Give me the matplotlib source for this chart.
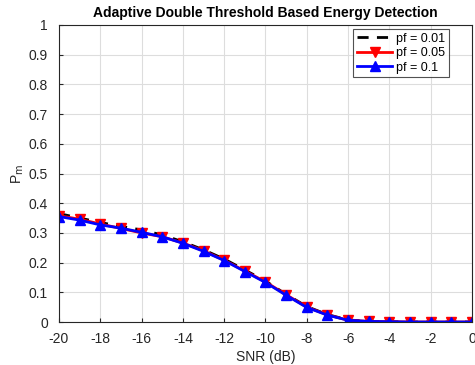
import matplotlib
matplotlib.use("Agg")
import matplotlib.pyplot as plt
import numpy as np

snr = list(range(-20, 1))
pf001 = [0.365, 0.350, 0.335, 0.322, 0.310, 0.293, 0.270, 0.243, 0.212, 0.175, 0.138, 0.093, 0.052, 0.025, 0.007, 0.002, 0.001, 0.0, 0.0, 0.0, 0.0]
pf005 = [0.358, 0.346, 0.330, 0.315, 0.300, 0.287, 0.266, 0.240, 0.208, 0.172, 0.135, 0.092, 0.050, 0.024, 0.006, 0.002, 0.001, 0.0, 0.0, 0.0, 0.0]
pf01 = [0.355, 0.343, 0.327, 0.316, 0.302, 0.287, 0.265, 0.238, 0.207, 0.170, 0.133, 0.090, 0.049, 0.023, 0.006, 0.002, 0.001, 0.0, 0.0, 0.0, 0.0]
labels = ["pf = 0.01", "pf = 0.05", "pf = 0.1"]

plt.rcParams['font.family'] = ['Liberation Sans', 'DejaVu Sans']
plt.rcParams['axes.unicode_minus'] = False
fig = plt.figure(figsize=(4.75, 3.65), dpi=100)
ax = fig.add_axes([59/475, 1 - 322/365, (472 - 59)/475, (322 - 25)/365])

ax.plot(snr, pf001, color='black', linestyle=(0, (4, 3)), linewidth=2, label=labels[0])
ax.plot(snr, pf005, color='red', linewidth=2, marker='v', markersize=7, label=labels[1])
ax.plot(snr, pf01, color='blue', linewidth=2, marker='^', markersize=7, label=labels[2])

ax.set_xlim(-20, 0)
ax.set_ylim(0, 1)
ax.set_xticks(range(-20, 1, 2))
ax.set_yticks(np.arange(0, 1.01, 0.1))
ax.set_yticklabels(["0", "0.1", "0.2", "0.3", "0.4", "0.5", "0.6", "0.7", "0.8", "0.9", "1"])
ax.grid(True, color='#dddddd', linewidth=0.8)
ax.tick_params(labelsize=10, colors='#262626', direction='in', length=3)
ax.tick_params(axis='x', pad=7)
ax.tick_params(axis='y', pad=8)
for s in ax.spines.values():
    s.set_color('#262626')
ax.set_xlabel("SNR (dB)", fontsize=10, color='#262626', labelpad=3)
ax.set_ylabel(r"P$_{\rm m}$", fontsize=10, color='#262626', labelpad=2)
ax.set_title("Adaptive Double Threshold Based Energy Detection", fontsize=10, fontweight='bold', pad=6)
leg = ax.legend(loc='upper right', fontsize=9, frameon=True, fancybox=False, edgecolor='#262626',
                handlelength=2.8, borderpad=0.3, labelspacing=0.2, handletextpad=0.3,
                borderaxespad=0, bbox_to_anchor=(0.944, 0.987))
leg.get_frame().set_linewidth(0.8)
fig.savefig("out.png", dpi=100)
